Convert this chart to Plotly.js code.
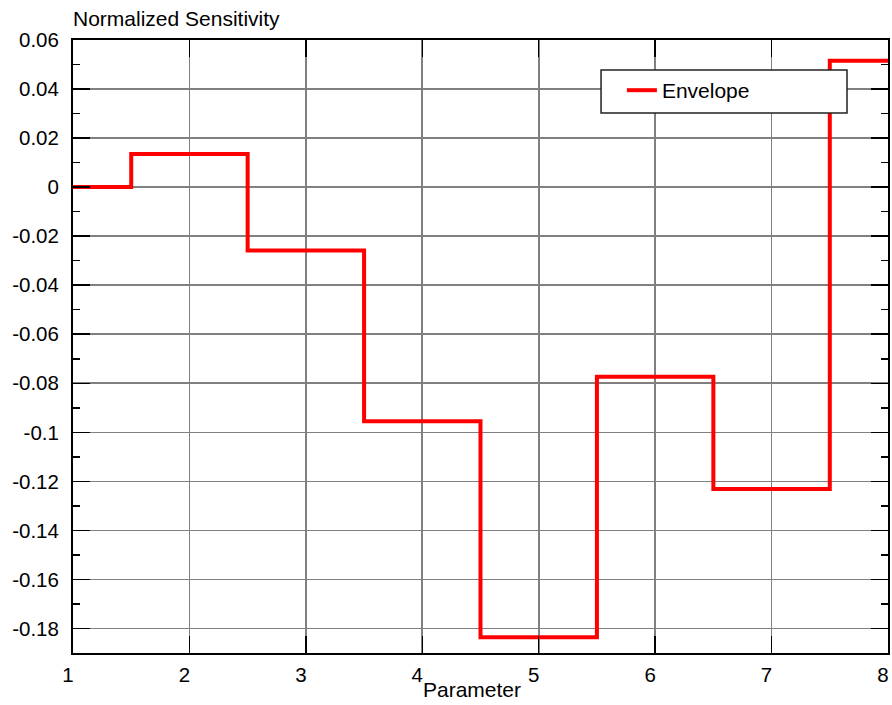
<!DOCTYPE html>
<html>
<head>
<meta charset="utf-8">
<script src="https://cdn.plot.ly/plotly-3.0.1.min.js"></script>
<style>html,body{margin:0;padding:0;background:#fff;}#chart{width:892px;height:705px;}</style>
</head>
<body>
<div id="chart"></div>
<script>
// Data
const parameter = [1, 2, 3, 4, 5, 6, 7, 8];
const envelope = [0, 0.0135, -0.0258, -0.0955, -0.1836, -0.0773, -0.1231, 0.0515];
const seriesName = 'Envelope';
const xTickVals = [1, 2, 3, 4, 5, 6, 7, 8];
const xTickText = ['1', '2', '3', '4', '5', '6', '7', '8'];
const yTickVals = [0.06, 0.04, 0.02, 0, -0.02, -0.04, -0.06, -0.08, -0.1, -0.12, -0.14, -0.16, -0.18];
const yTickText = ['0.06', '0.04', '0.02', '0', '-0.02', '-0.04', '-0.06', '-0.08', '-0.1', '-0.12', '-0.14', '-0.16', '-0.18'];

const FONT = 'Liberation Sans, Arial, sans-serif';
const TICKSIZE = 20.5;
const TEXTSIZE = 21;

const trace = {
  x: parameter,
  y: envelope,
  type: 'scatter',
  mode: 'lines',
  name: seriesName,
  line: {shape: 'hvh', color: '#ff0000', width: 4}
};

const layout = {
  width: 892,
  height: 705,
  margin: {l: 73, r: 4, t: 40, b: 52},
  paper_bgcolor: '#ffffff',
  plot_bgcolor: '#ffffff',
  font: {family: FONT, size: TEXTSIZE, color: '#000'},
  showlegend: true,
  legend: {
    x: 0.6735, y: 0.951, xanchor: 'left', yanchor: 'top',
    bgcolor: 'rgba(0,0,0,0)', borderwidth: 0,
    font: {family: FONT, size: TEXTSIZE, color: '#000'}
  },
  shapes: [
    {type: 'rect', xref: 'paper', yref: 'paper', x0: 0.6479, x1: 0.9497, y0: 0.8809, y1: 0.951,
     fillcolor: '#ffffff', line: {color: '#222', width: 1.5}, layer: 'above'}
  ],
  xaxis: {
    range: [1, 8],
    tickvals: xTickVals,
    ticktext: xTickText,
    ticks: 'inside', ticklen: 17, tickwidth: 1.5, tickcolor: '#000',
    showline: true, linecolor: '#000', linewidth: 2, mirror: 'ticks',
    showgrid: true, gridcolor: '#808080', gridwidth: 1.6,
    zeroline: false,
    ticklabelstandoff: 2,
    ticklabelshift: -5,
    ticklabeloverflow: 'allow',
    tickfont: {family: FONT, size: TICKSIZE, color: '#000'}
  },
  yaxis: {
    range: [-0.19, 0.06],
    tickvals: yTickVals,
    ticktext: yTickText,
    ticks: 'inside', ticklen: 17, tickwidth: 1.5, tickcolor: '#000',
    showline: true, linecolor: '#000', linewidth: 2, mirror: 'ticks',
    showgrid: true, gridcolor: '#808080', gridwidth: 1.6,
    zeroline: false,
    ticklabelstandoff: 8,
    ticklabeloverflow: 'allow',
    minor: {dtick: 0.01, tick0: 0, ticks: 'inside', ticklen: 7, tickwidth: 1.5, tickcolor: '#000', showgrid: false},
    tickfont: {family: FONT, size: TICKSIZE, color: '#000'}
  },
  annotations: [
    {text: 'Normalized Sensitivity', xref: 'paper', yref: 'paper', x: 0, y: 1, xanchor: 'left', yanchor: 'bottom', xshift: -2, yshift: 8, showarrow: false, font: {family: FONT, size: TEXTSIZE, color: '#000'}},
    {text: 'Parameter', xref: 'paper', yref: 'paper', x: 0.49, y: 0, xanchor: 'center', yanchor: 'top', yshift: -23, showarrow: false, font: {family: FONT, size: TEXTSIZE, color: '#000'}}
  ]
};

Plotly.newPlot('chart', [trace], layout, {displayModeBar: false, staticPlot: true});
</script>
</body>
</html>
